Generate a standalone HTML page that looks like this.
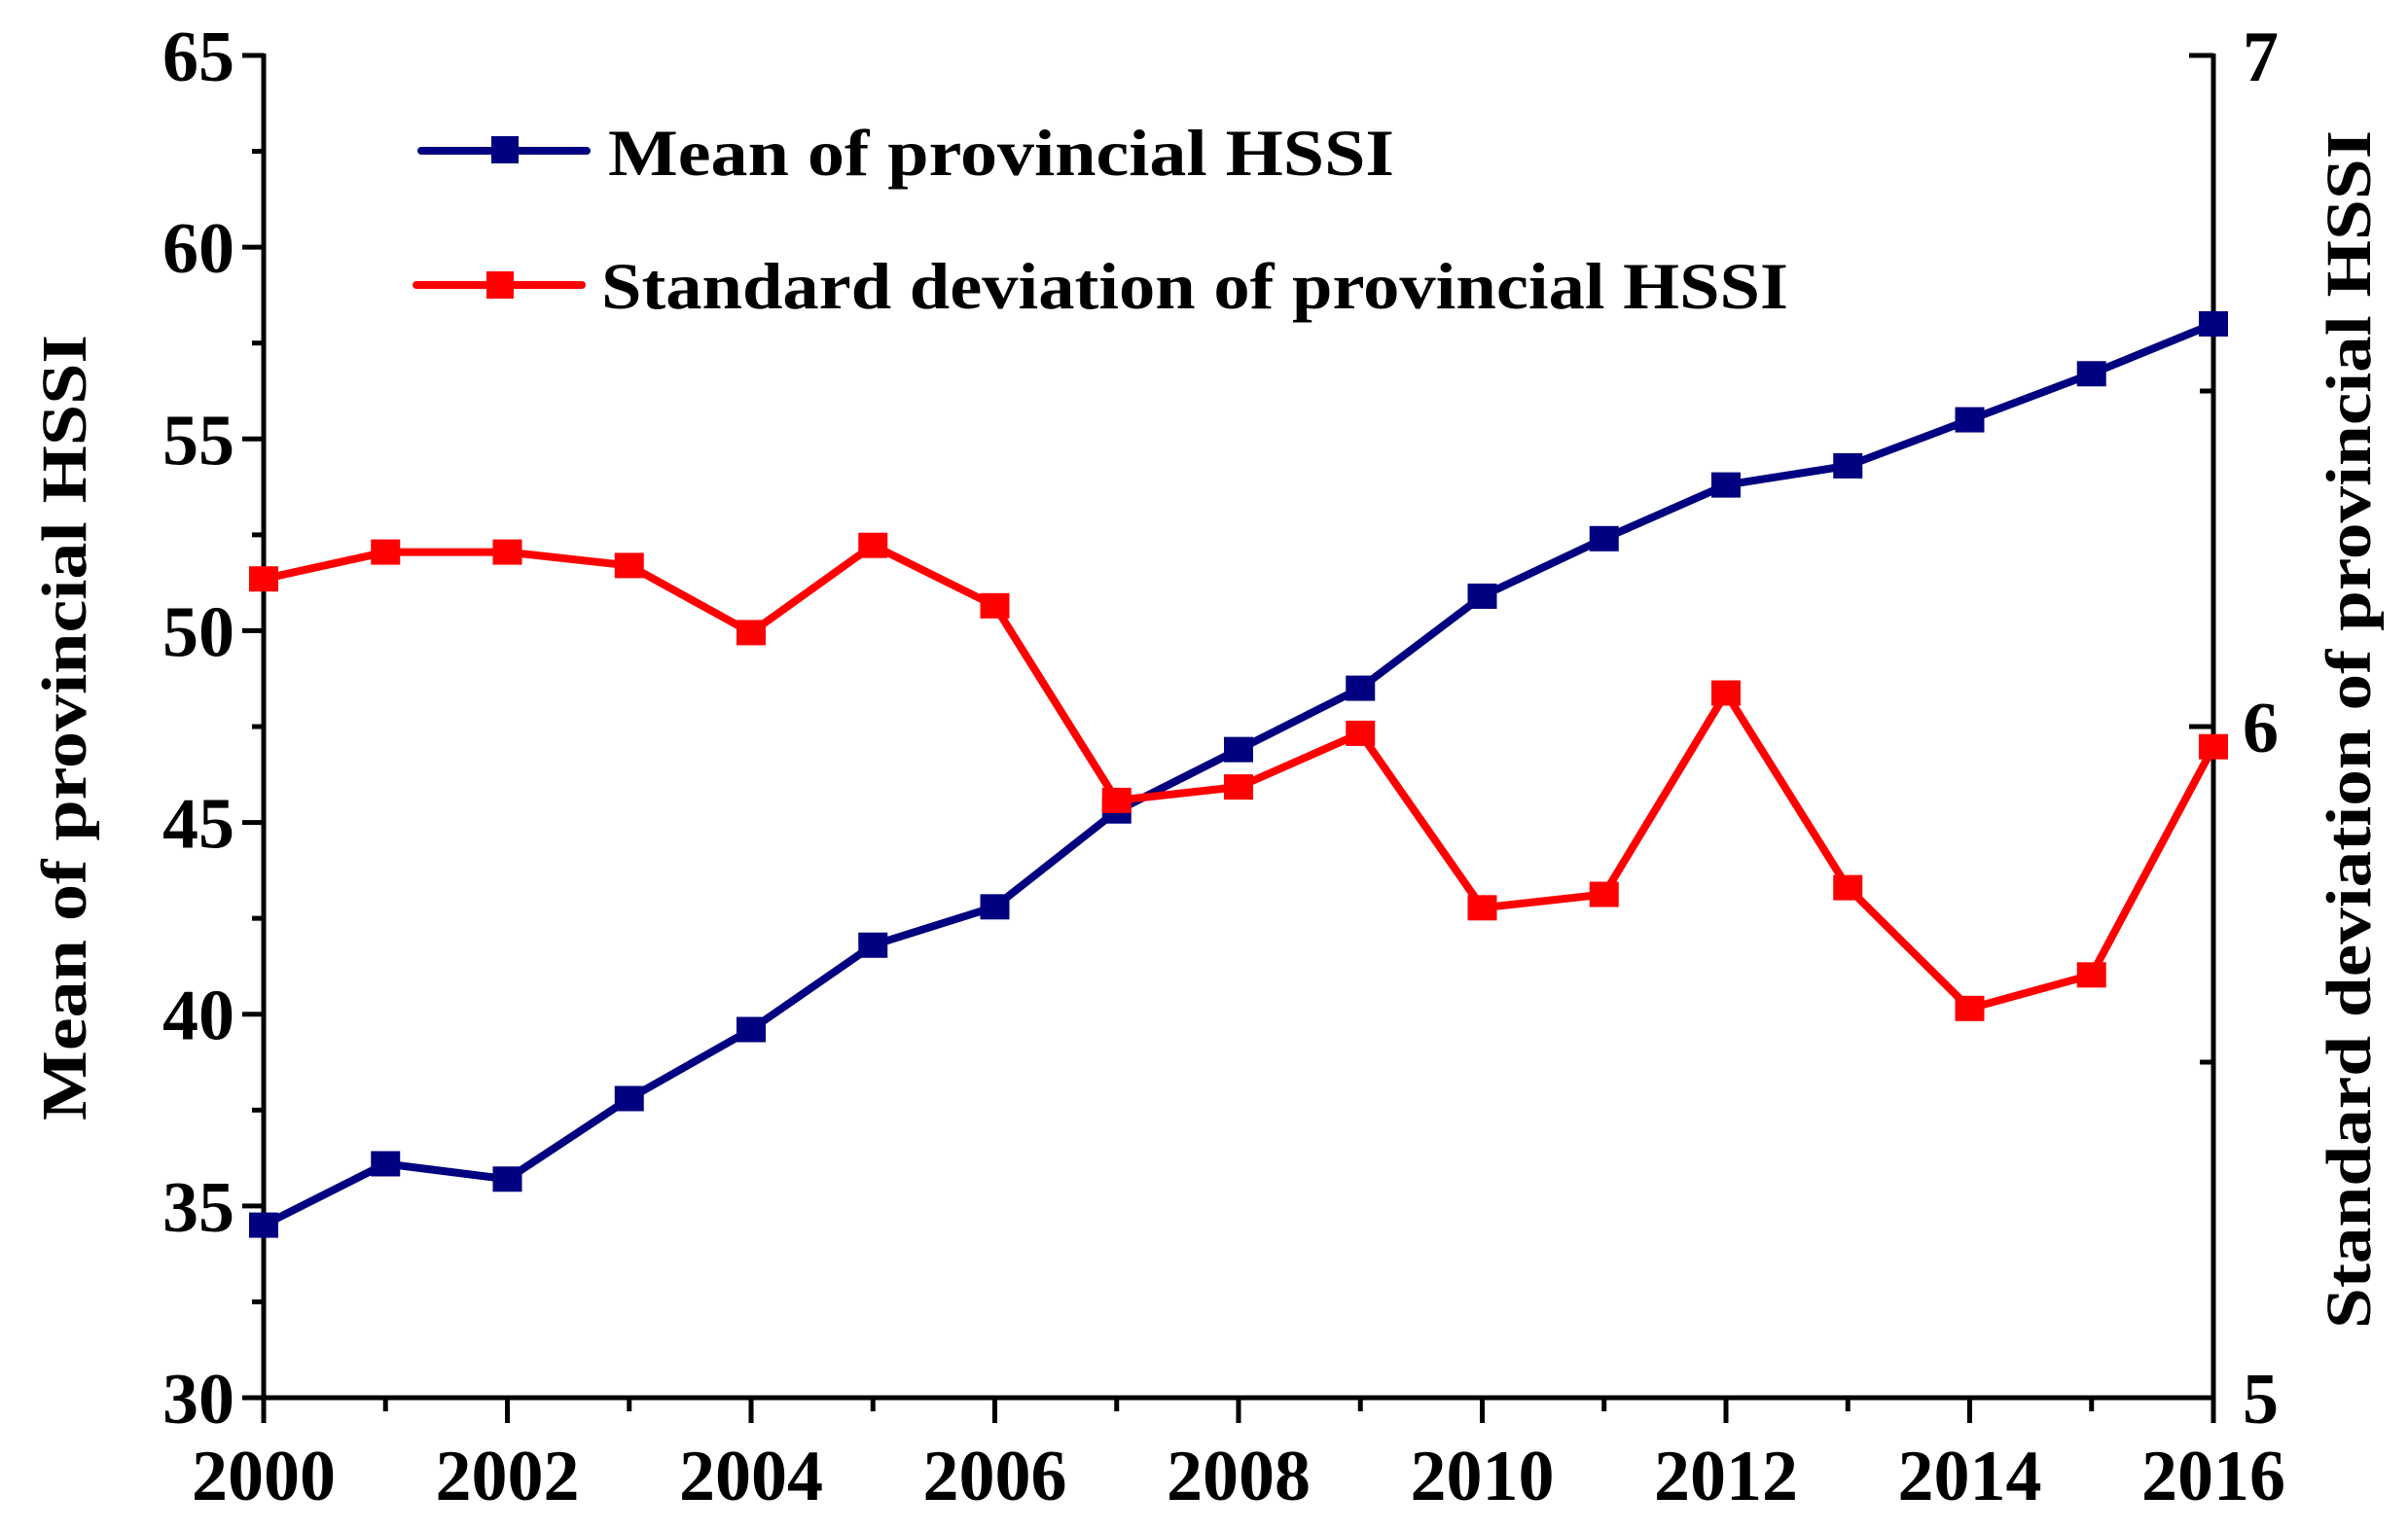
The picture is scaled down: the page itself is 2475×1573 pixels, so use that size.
<!DOCTYPE html>
<html><head><meta charset="utf-8"><style>html,body{margin:0;padding:0;background:#fff}svg{display:block}</style></head>
<body>
<svg id="chart" width="2475" height="1573" viewBox="0 0 2475 1573" xmlns="http://www.w3.org/2000/svg" font-family="'Liberation Serif', serif" font-weight="bold"></svg>
<script>
const years = [2000,2001,2002,2003,2004,2005,2006,2007,2008,2009,2010,2011,2012,2013,2014,2015,2016];
const meanValues = [34.5,36.1,35.7,37.8,39.6,41.8,42.8,45.3,46.9,48.5,50.9,52.4,53.8,54.3,55.5,56.7,58.0];
const sdValues = [6.22,6.26,6.26,6.24,6.14,6.27,6.18,5.89,5.91,5.99,5.73,5.75,6.05,5.76,5.58,5.63,5.97];
const xTickLabels = [2000,2002,2004,2006,2008,2010,2012,2014,2016];
const leftTickLabels = [30,35,40,45,50,55,60,65];
const rightTickLabels = [5,6,7];

const NS = 'http://www.w3.org/2000/svg';
const svg = document.getElementById('chart');
const L = 271, R = 2275, T = 57, B = 1437;
const xS = v => L + (v - 2000) / 16 * (R - L);
const yL = v => B - (v - 30) / 35 * (B - T);
const yR = v => B - (v - 5) / 2 * (B - T);
function el(tag, attrs, parent) {
  const e = document.createElementNS(NS, tag);
  for (const k in attrs) e.setAttribute(k, attrs[k]);
  (parent || svg).appendChild(e);
  return e;
}
function txt(s, attrs, parent) { const e = el('text', attrs, parent); e.textContent = s; return e; }

const axes = el('g', {stroke:'#000','stroke-width':5,fill:'none'});


el('line',{x1:L,y1:T-2,x2:L,y2:B+2},axes);
el('line',{x1:L-2,y1:B,x2:R+2,y2:B},axes);
el('line',{x1:R,y1:T-2,x2:R,y2:B+25},axes);
el('line',{x1:L,y1:T,x2:L-18,y2:T},axes);
el('line',{x1:R,y1:T,x2:R-25,y2:T},axes);

for (let v = 30; v <= 65; v += 2.5) {
  const major = v % 5 === 0;
  el('line',{x1:L,y1:yL(v),x2:L-(major?22:12),y2:yL(v),'stroke-width':5,stroke:'#000'});
}
leftTickLabels.forEach(v => {
  const t = txt(String(v), {x:L-30,y:yL(v)+26,'text-anchor':'end','font-size':74});
  
  
});
for (let v = 5; v <= 7; v += 0.5) {
  const major = v % 1 === 0;
  el('line',{x1:R,y1:yR(v),x2:R-(major?25:14),y2:yR(v),'stroke-width':5,stroke:'#000'});
}
rightTickLabels.forEach(v => {
  const t = txt(String(v), {x:R+30,y:yR(v)+26,'text-anchor':'start','font-size':74});
  
  
});
years.forEach(y => {
  const major = y % 2 === 0;
  el('line',{x1:xS(y),y1:B,x2:xS(y),y2:B+(major?26:14),'stroke-width':5,stroke:'#000'});
});
xTickLabels.forEach(y => {
  const t = txt(String(y), {x:xS(y),y:1542,'text-anchor':'middle','font-size':74});
  
  
});

const lt = txt('Mean of provincial  HSSI', {transform:'translate(88,748) rotate(-90)','text-anchor':'middle','font-size':66,textLength:808,lengthAdjust:'spacingAndGlyphs'});


const rt = txt('Standard deviation of provincial HSSI', {transform:'translate(2436,750) rotate(-90)','text-anchor':'middle','font-size':66,textLength:1232,lengthAdjust:'spacingAndGlyphs'});



function series(vals, yfn, color, name) {
  const g = el('g', {});
  
  
  const pts = vals.map((v,i) => xS(years[i]) + ',' + yfn(v)).join(' ');
  el('polyline',{points:pts,fill:'none',stroke:color,'stroke-width':8,'stroke-linejoin':'round'},g);
  vals.forEach((v,i) => {
    const m = el('rect',{x:xS(years[i])-15,y:yfn(v)-13,width:30,height:26,fill:color},g);
    
    
  });
}
series(meanValues, yL, '#000080', 'mean-series');
series(sdValues, yR, '#ff0000', 'sd-series');

const lg = el('g', {});


el('line',{x1:433,y1:155,x2:603,y2:155,stroke:'#000080','stroke-width':8,'stroke-linecap':'round'},lg);
el('rect',{x:505,y:140,width:28,height:28,fill:'#000080'},lg);
const l1 = txt('Mean of provincial  HSSI',{x:625,y:180,'font-size':68,textLength:808,lengthAdjust:'spacingAndGlyphs'},lg);


el('line',{x1:428,y1:293,x2:598,y2:293,stroke:'#ff0000','stroke-width':8,'stroke-linecap':'round'},lg);
el('rect',{x:500,y:279,width:28,height:28,fill:'#ff0000'},lg);
const l2 = txt('Standard deviation of provincial HSSI',{x:618,y:317,'font-size':68,textLength:1220,lengthAdjust:'spacingAndGlyphs'},lg);


</script>
</body></html>
